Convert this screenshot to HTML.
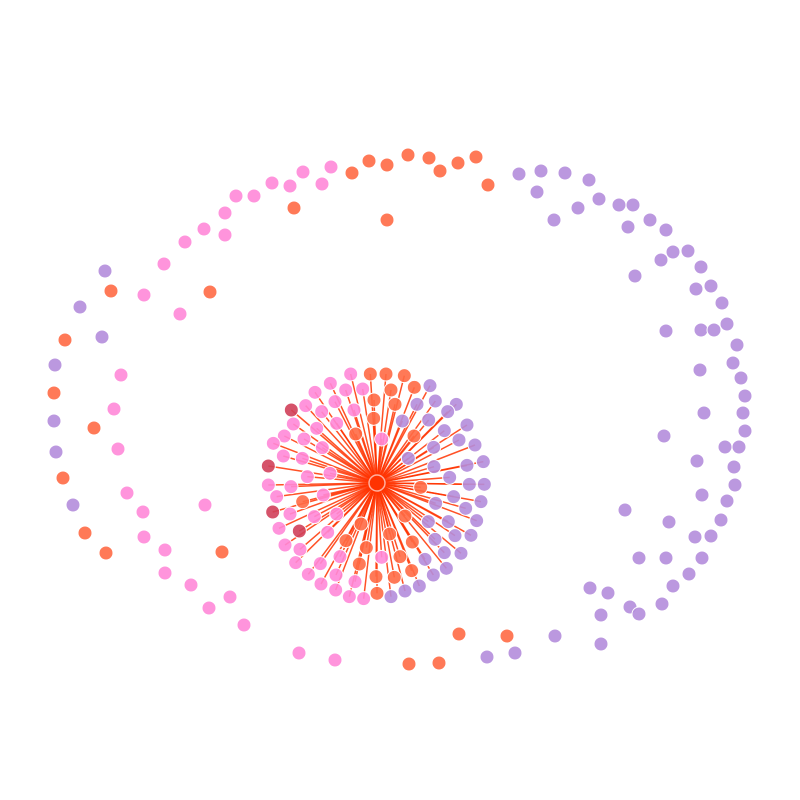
<!DOCTYPE html>
<html><head><meta charset="utf-8"><style>
html,body{margin:0;padding:0;background:#fff;width:800px;height:800px;overflow:hidden}
svg{display:block}
</style></head><body>
<svg id="chart" width="800" height="800" viewBox="0 0 800 800"></svg>
<script>
// colors by group
const groupColors = {o:"#ff6a45", p:"#ff88d8", u:"#b48ddb", d:"#d0405a"};
const hub = [377,483];
// outer (unconnected) nodes: [x, y, group]
const outerNodes = [
[408,155,"o"],[429,158,"o"],[458,163,"o"],[476,157,"o"],[440,171,"o"],[369,161,"o"],[387,165,"o"],[352,173,"o"],[488,185,"o"],[294,208,"o"],[387,220,"o"],[210,292,"o"],[111,291,"o"],[65,340,"o"],[54,393,"o"],[94,428,"o"],[63,478,"o"],[85,533,"o"],[106,553,"o"],[222,552,"o"],[459,634,"o"],[507,636,"o"],[409,664,"o"],[439,663,"o"],
[331,167,"p"],[303,172,"p"],[290,186,"p"],[272,183,"p"],[322,184,"p"],[236,196,"p"],[254,196,"p"],[225,213,"p"],[204,229,"p"],[225,235,"p"],[185,242,"p"],[164,264,"p"],[144,295,"p"],[180,314,"p"],[121,375,"p"],[114,409,"p"],[118,449,"p"],[127,493,"p"],[143,512,"p"],[144,537,"p"],[165,550,"p"],[165,573,"p"],[191,585,"p"],[209,608,"p"],[230,597,"p"],[244,625,"p"],[205,505,"p"],[299,653,"p"],[335,660,"p"],
[519,174,"u"],[541,171,"u"],[565,173,"u"],[589,180,"u"],[537,192,"u"],[578,208,"u"],[599,199,"u"],[554,220,"u"],[619,205,"u"],[633,205,"u"],[628,227,"u"],[650,220,"u"],[666,230,"u"],[673,252,"u"],[688,251,"u"],[661,260,"u"],[701,267,"u"],[635,276,"u"],[711,286,"u"],[696,289,"u"],[722,303,"u"],[727,324,"u"],[701,330,"u"],[714,330,"u"],[666,331,"u"],[737,345,"u"],[733,363,"u"],[700,370,"u"],[741,378,"u"],[745,396,"u"],[743,413,"u"],[704,413,"u"],[745,431,"u"],[664,436,"u"],[739,447,"u"],[725,447,"u"],[697,461,"u"],[734,467,"u"],[735,485,"u"],[702,495,"u"],[727,501,"u"],[625,510,"u"],[721,520,"u"],[669,522,"u"],[711,536,"u"],[695,537,"u"],[639,558,"u"],[666,558,"u"],[702,558,"u"],[673,586,"u"],[689,574,"u"],[590,588,"u"],[608,593,"u"],[630,607,"u"],[639,614,"u"],[662,604,"u"],[601,615,"u"],[555,636,"u"],[601,644,"u"],[515,653,"u"],[487,657,"u"],[105,271,"u"],[80,307,"u"],[102,337,"u"],[55,365,"u"],[54,421,"u"],[56,452,"u"],[73,505,"u"]
];
// hub-connected nodes (in 3x zoom coordinates of region starting at 255,360)
const spokeNodes = [
[287,42,"p"],[226,70,"p"],[180,97,"p"],[152,137,"p"],[115,192,"p"],[88,228,"p"],[55,250,"p"],[85,288,"p"],[40,375,"p"],[65,410,"p"],[72,505,"p"],[90,555,"p"],[122,608,"p"],[160,643,"p"],[198,672,"p"],[242,690,"p"],[283,710,"p"],[326,716,"p"],[300,665,"p"],[243,645,"p"],[196,611,"p"],[135,568,"p"],[105,462,"p"],[108,380,"p"],[157,350,"p"],[142,295,"p"],[147,237,"p"],[185,205,"p"],[200,155,"p"],[240,125,"p"],[272,90,"p"],[323,87,"p"],[297,150,"p"],[245,190,"p"],[202,263,"p"],[225,340,"p"],[205,405,"p"],[178,470,"p"],[218,517,"p"],[245,462,"p"],[255,590,"p"],[380,237,"p"],[380,592,"p"],
[346,42,"o"],[393,42,"o"],[448,47,"o"],[478,82,"o"],[408,90,"o"],[357,120,"o"],[420,133,"o"],[356,175,"o"],[302,222,"o"],[477,228,"o"],[497,382,"o"],[143,425,"o"],[318,492,"o"],[450,468,"o"],[404,522,"o"],[273,542,"o"],[334,563,"o"],[472,546,"o"],[435,590,"o"],[313,612,"o"],[363,650,"o"],[418,652,"o"],[470,632,"o"],[366,700,"o"],
[109,150,"d"],[40,318,"d"],[53,456,"d"],[133,513,"d"],
[525,77,"u"],[541,123,"u"],[486,133,"u"],[604,133,"u"],[578,155,"u"],[442,183,"u"],[521,180,"u"],[636,195,"u"],[568,212,"u"],[612,240,"u"],[660,255,"u"],[536,262,"u"],[685,305,"u"],[636,316,"u"],[537,320,"u"],[460,295,"u"],[584,352,"u"],[643,373,"u"],[688,373,"u"],[596,410,"u"],[542,430,"u"],[678,425,"u"],[632,445,"u"],[665,482,"u"],[520,485,"u"],[580,485,"u"],[648,526,"u"],[600,527,"u"],[540,538,"u"],[618,580,"u"],[568,578,"u"],[510,598,"u"],[574,625,"u"],[535,645,"u"],[493,678,"u"],[450,693,"u"],[408,710,"u"]
];
const NS="http://www.w3.org/2000/svg";
const svg=document.getElementById('chart');
const sx=v=>255+v/3, sy=v=>360+v/3;
const gE=document.createElementNS(NS,'g');


svg.appendChild(gE);
const gN=document.createElementNS(NS,'g');


svg.appendChild(gN);
function node(x,y,c,r){
  const el=document.createElementNS(NS,'circle');
  el.setAttribute('cx',x);el.setAttribute('cy',y);el.setAttribute('r',r);
  el.setAttribute('fill',c);el.setAttribute('fill-opacity','0.9');
  el.setAttribute('stroke','#fff');el.setAttribute('stroke-width','1');
  
  
  gN.appendChild(el);
}
spokeNodes.forEach(n=>{
  const ln=document.createElementNS(NS,'line');
  ln.setAttribute('x1',hub[0]);ln.setAttribute('y1',hub[1]);
  ln.setAttribute('x2',sx(n[0]));ln.setAttribute('y2',sy(n[1]));
  ln.setAttribute('stroke','#ff3300');ln.setAttribute('stroke-width','1.5');ln.setAttribute('stroke-opacity','0.85');
  
  
  gE.appendChild(ln);
});
outerNodes.forEach(n=>node(n[0],n[1],groupColors[n[2]],7));
spokeNodes.forEach(n=>node(sx(n[0]),sy(n[1]),groupColors[n[2]],7));
const h=document.createElementNS(NS,'circle');
h.setAttribute('cx',hub[0]);h.setAttribute('cy',hub[1]);h.setAttribute('r',8);
h.setAttribute('fill','#ff3300');h.setAttribute('stroke','#ffb0a0');h.setAttribute('stroke-width','1.5');


svg.appendChild(h);
</script>
</body></html>
